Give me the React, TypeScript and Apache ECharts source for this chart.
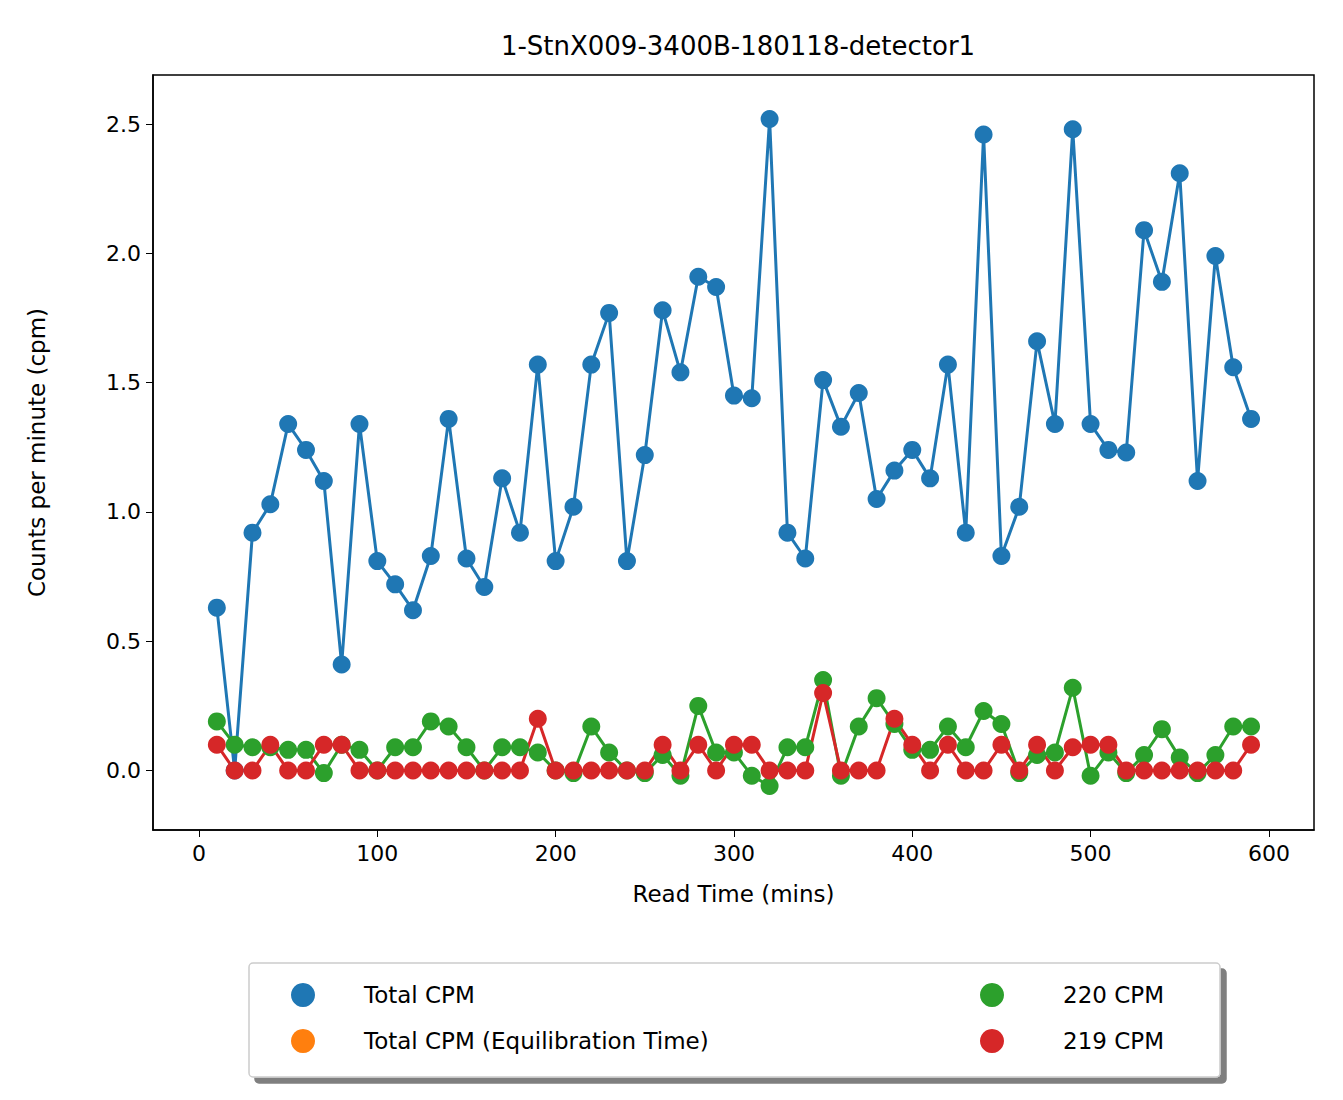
import React, { useEffect, useRef } from "react";
import * as echarts from "echarts";

const times = Array.from({ length: 59 }, (_, i) => (i + 1) * 10);
const totalCpm = [0.63,0.0,0.92,1.03,1.34,1.24,1.12,0.41,1.34,0.81,0.72,0.62,0.83,1.36,0.82,0.71,1.13,0.92,1.57,0.81,1.02,1.57,1.77,0.81,1.22,1.78,1.54,1.91,1.87,1.45,1.44,2.52,0.92,0.82,1.51,1.33,1.46,1.05,1.16,1.24,1.13,1.57,0.92,2.46,0.83,1.02,1.66,1.34,2.48,1.34,1.24,1.23,2.09,1.89,2.31,1.12,1.99,1.56,1.36];
const cpm220 = [0.19,0.10,0.09,0.09,0.08,0.08,-0.01,0.10,0.08,0.0,0.09,0.09,0.19,0.17,0.09,0.0,0.09,0.09,0.07,0.0,-0.01,0.17,0.07,0.0,-0.01,0.06,-0.02,0.25,0.07,0.07,-0.02,-0.06,0.09,0.09,0.35,-0.02,0.17,0.28,0.18,0.08,0.08,0.17,0.09,0.23,0.18,-0.01,0.06,0.07,0.32,-0.02,0.07,-0.01,0.06,0.16,0.05,-0.01,0.06,0.17,0.17];
const cpm219 = [0.1,0,0,0.1,0,0,0.1,0.1,0,0,0,0,0,0,0,0,0,0,0.2,0,0,0,0,0,0,0.1,0,0.1,0,0.1,0.1,0,0,0,0.3,0,0,0,0.2,0.1,0,0.1,0,0,0.1,0,0.1,0,0.09,0.1,0.1,0,0,0,0,0,0,0,0.1];
const xTicks = [0,100,200,300,400,500,600];
const yTicks = [0,0.5,1,1.5,2,2.5];

const pts = (v: number[]) => times.map((t, i) => [t, v[i]]);

export default function App() {
  const ref = useRef<HTMLDivElement>(null);
  useEffect(() => {
    const c = echarts.init(ref.current!, null, { renderer: "svg" });
    const font = "DejaVu Sans";
    const line = (name: string, data: any, color: string) => ({
      name, type: "line", data, color, symbol: "circle", symbolSize: 18,
      lineStyle: { width: 3, color }, itemStyle: { color },
    });
    c.setOption({
      animation: false,
      textStyle: { fontFamily: font },
      title: { text: "1-StnX009-3400B-180118-detector1", left: 733, top: 28, textAlign: "center",
        textStyle: { fontSize: 26, fontWeight: "normal", color: "#000", fontFamily: font } },
      grid: { left: 153, right: 29, top: 75, bottom: 270 },
      xAxis: {
        type: "value", min: -25.8, max: 625.3, name: "Read Time (mins)", nameLocation: "middle", nameGap: 52,
        nameTextStyle: { fontSize: 23, color: "#000" },
        axisLine: { onZero: false, lineStyle: { color: "#000", width: 1.5 } },
        axisTick: { customValues: xTicks, length: 7, lineStyle: { color: "#000" } },
        axisLabel: { customValues: xTicks, fontSize: 22, color: "#000", margin: 12 },
        splitLine: { show: false },
      },
      yAxis: {
        type: "value", min: -0.23, max: 2.69, name: "Counts per minute (cpm)", nameLocation: "middle", nameGap: 105,
        nameTextStyle: { fontSize: 23, color: "#000" },
        axisLine: { show: true, onZero: false, lineStyle: { color: "#000", width: 1.5 } },
        axisTick: { show: true, customValues: yTicks, length: 7, lineStyle: { color: "#000" } },
        axisLabel: { customValues: yTicks, fontSize: 22, color: "#000", margin: 12, formatter: (v: number) => v.toFixed(1) },
        splitLine: { show: false },
      },
      legend: [
        { orient: "vertical", left: 286, top: 978, itemGap: 22, itemWidth: 24, itemHeight: 24, icon: "circle",
          data: ["Total CPM", "Total CPM (Equilibration Time)"], textStyle: { fontSize: 23, color: "#000", padding: [0, 0, 0, 44] } },
        { orient: "vertical", left: 975, top: 978, itemGap: 22, itemWidth: 24, itemHeight: 24, icon: "circle",
          data: ["220 CPM", "219 CPM"], textStyle: { fontSize: 23, color: "#000", padding: [0, 0, 0, 54] } },
      ],
      graphic: [
        { type: "rect", shape: { x: 249, y: 963, width: 971, height: 114, r: 4 }, z: -1,
          style: { fill: "#fff", stroke: "#ccc", lineWidth: 1.5, shadowColor: "rgba(0,0,0,0.5)", shadowOffsetX: 6, shadowOffsetY: 6, shadowBlur: 0 } },
        { type: "rect", shape: { x: 153, y: 75, width: 1161, height: 755 }, silent: true,
          style: { fill: "none", stroke: "#000", lineWidth: 1.5 } },
      ],
      series: [
        line("Total CPM", pts(totalCpm), "#1f77b4"),
        line("Total CPM (Equilibration Time)", [], "#ff7f0e"),
        line("220 CPM", pts(cpm220), "#2ca02c"),
        line("219 CPM", pts(cpm219), "#d62728"),
      ],
    });
    return () => c.dispose();
  }, []);
  return <div ref={ref} style={{ position: "absolute", left: 0, top: 0, width: 1343, height: 1100 }} />;
}
